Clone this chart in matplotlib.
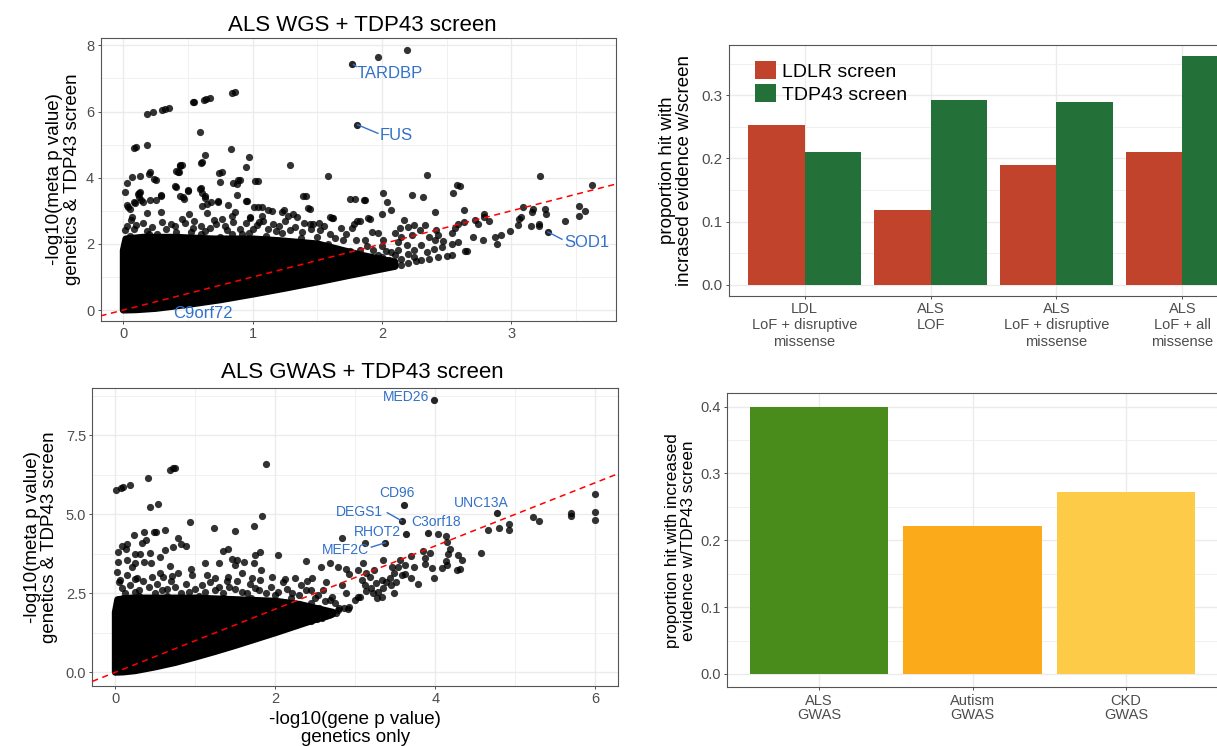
import numpy as np
import matplotlib
matplotlib.use("Agg")
import matplotlib.pyplot as plt
from matplotlib.patches import Polygon, Patch

plt.rcParams['font.family'] = ['Liberation Sans', 'DejaVu Sans']

# ------------------------------------------------------------------ data
# --- ALS WGS + TDP43 screen (x = -log10 gene p, y = -log10 meta p)
wgs_high = [(0.18, 5.93), (0.23, 5.99), (0.30, 6.05), (0.32, 6.07), (0.35, 6.10), (0.54, 6.28),
            (0.55, 6.29), (0.62, 6.36), (0.64, 6.38), (0.67, 6.40), (0.84, 6.57), (0.86, 6.59),
            (0.59, 5.38), (0.08, 4.91), (0.10, 4.92), (0.18, 5.00), (0.83, 4.87), (0.63, 4.69),
            (0.61, 4.47), (0.97, 4.64), (0.95, 4.33), (1.29, 4.39), (1.58, 4.04), (0.44, 4.39),
            (0.44, 4.34), (0.41, 4.21), (0.42, 4.16), (0.21, 4.17), (0.20, 4.12), (0.24, 3.96),
            (0.07, 4.01), (0.13, 4.06), (0.03, 3.83), (0.74, 4.14), (0.76, 4.16), (0.75, 3.88),
            (0.89, 3.93), (0.85, 3.83), (1.02, 3.91), (0.40, 3.76), (2.35, 4.09), (2.58, 3.78),
            (3.22, 4.06), (3.62, 3.79), (0.25, 3.93), (0.43, 4.18), (0.45, 4.38), (0.60, 4.45),
            (0.88, 3.80), (0.90, 3.93), (1.04, 3.91), (0.41, 3.73), (0.60, 3.68), (2.60, 3.75),
            (1.97, 7.64), (2.19, 7.85)]
wgs_mid = [(0.01, 3.56), (0.12, 3.53), (0.09, 3.24), (0.03, 3.18), (0.14, 3.33), (0.15, 3.26),
           (0.25, 3.33), (0.29, 3.48), (0.50, 3.61), (0.44, 3.45), (0.59, 3.66), (0.61, 3.15),
           (0.63, 3.45), (0.68, 3.26), (0.73, 3.28), (0.81, 3.18), (0.88, 3.48), (0.86, 2.97),
           (0.95, 3.30), (1.01, 3.12), (1.07, 3.12), (1.12, 3.01), (1.24, 3.02), (1.31, 2.89),
           (1.39, 3.46), (1.43, 3.07), (1.61, 2.77), (1.75, 3.35), (1.81, 2.70), (0.18, 2.92),
           (0.29, 2.97), (0.37, 2.61), (0.45, 2.75), (0.51, 2.89), (0.65, 2.92), (0.76, 2.74),
           (0.84, 2.83), (0.98, 2.78), (1.08, 2.70), (1.16, 2.60), (1.40, 2.62), (1.47, 2.60),
           (0.06, 2.72), (0.02, 2.07), (0.01, 2.42), (0.10, 2.57), (0.54, 2.47), (0.70, 2.72),
           (0.95, 2.64), (1.03, 2.57), (1.23, 2.32), (1.29, 2.42), (1.52, 2.42), (1.64, 2.19),
           (1.70, 2.13), (1.80, 2.12), (0.41, 2.37), (0.80, 2.42), (1.37, 2.19), (0.04, 3.12),
           (0.05, 3.06), (0.08, 3.27), (0.11, 3.51), (0.13, 3.57), (0.12, 3.41), (0.07, 2.80),
           (0.21, 3.33), (0.29, 3.46), (0.50, 3.63), (0.46, 3.41), (0.47, 3.35), (0.61, 3.53),
           (0.63, 3.39), (0.65, 3.21), (0.73, 3.29), (0.96, 3.31), (1.41, 3.45), (1.44, 3.06),
           (1.79, 3.37), (1.87, 3.33), (1.83, 2.69), (1.91, 2.74), (1.77, 2.47), (1.68, 2.47),
           (1.60, 2.82), (1.62, 2.77), (1.51, 2.64), (1.44, 2.60), (1.34, 2.82), (1.27, 2.84),
           (1.23, 2.97), (1.15, 3.00), (1.07, 2.84), (1.04, 3.11), (0.98, 2.82), (0.05, 2.25),
           (0.12, 2.15), (0.20, 2.30), (0.28, 2.10), (0.35, 2.20), (0.50, 2.15), (0.60, 2.30),
           (0.68, 2.05), (0.75, 2.20), (0.88, 2.10), (0.92, 2.30), (1.00, 2.05), (1.10, 2.25),
           (1.15, 2.05), (1.35, 2.05), (1.45, 1.95), (1.58, 2.00), (1.65, 1.85), (1.75, 1.80),
           (0.03, 2.55), (0.08, 2.45), (0.15, 2.62), (0.22, 2.50), (0.30, 2.65), (0.33, 2.45),
           (0.40, 2.55), (0.48, 2.62), (0.55, 2.70), (0.60, 2.55), (0.67, 2.48), (0.72, 2.60),
           (0.79, 2.55), (0.85, 2.65), (0.90, 2.45), (1.00, 2.45), (1.05, 2.65), (1.12, 2.45),
           (1.20, 2.55), (1.25, 2.70), (1.33, 2.50), (1.38, 2.35), (1.45, 2.45), (1.55, 2.55),
           (1.60, 2.30), (1.72, 2.30), (1.78, 2.60), (0.18, 2.38), (0.26, 2.30), (0.52, 2.35),
           (0.63, 2.40), (0.84, 2.30), (0.97, 2.32), (1.18, 2.38), (1.50, 2.20)]
wgs_right = [(2.55, 3.54), (2.01, 3.53), (2.23, 3.48), (2.32, 3.42), (1.86, 3.33), (2.04, 3.26),
             (2.07, 3.03), (2.41, 2.95), (2.00, 2.91), (2.63, 3.02), (3.52, 3.15), (3.57, 3.00),
             (3.52, 2.84), (3.26, 3.05), (3.27, 2.91), (3.16, 2.97), (3.17, 3.05), (3.09, 3.11),
             (3.07, 2.80), (3.06, 2.74), (3.41, 2.69), (3.21, 2.59), (3.21, 2.55), (3.15, 2.54),
             (3.05, 2.56), (2.99, 2.39), (2.92, 2.27), (2.87, 2.22), (2.89, 2.00), (2.78, 2.12),
             (2.70, 2.22), (2.79, 2.91), (2.79, 2.82), (2.83, 2.70), (2.72, 2.72), (2.74, 2.61),
             (2.63, 2.65), (2.59, 2.60), (2.56, 2.47), (2.42, 2.42), (2.43, 2.27), (2.41, 2.12),
             (2.47, 2.10), (2.54, 2.32), (2.59, 2.07), (2.54, 2.00), (2.46, 1.91), (2.33, 2.57),
             (2.29, 2.42), (2.25, 2.57), (2.23, 2.27), (2.36, 2.22), (2.30, 1.98), (2.25, 1.82),
             (2.17, 2.72), (2.20, 2.52), (2.14, 2.47), (2.15, 2.22), (2.19, 1.97), (2.12, 1.82),
             (2.07, 1.76), (2.10, 2.32), (1.89, 2.77), (1.92, 2.37), (1.97, 2.32), (2.01, 2.12),
             (2.03, 1.80), (1.97, 1.66), (1.93, 1.82), (1.87, 2.12), (1.83, 1.82), (1.84, 1.62),
             (1.90, 1.51), (1.95, 1.45), (2.00, 1.60), (2.05, 1.50), (2.10, 1.65), (2.15, 1.55),
             (2.00, 1.95), (1.88, 1.95), (2.12, 2.05), (2.20, 1.70), (2.25, 1.60), (2.35, 1.75),
             (2.40, 1.85)]
wgs_edge = [(2.15, 1.36), (2.20, 1.41), (2.26, 1.48), (2.30, 1.51), (2.36, 1.53), (2.43, 1.59),
            (2.50, 1.64), (2.54, 1.66), (2.64, 1.77), (2.66, 1.80)]
# outline of the solid mass of overlapping points
wgs_mass_top_x = [0.00, 0.02, 0.15, 0.40, 0.70, 1.00, 1.20, 1.50, 1.70, 1.85, 2.10]
wgs_mass_top_y = [1.80, 2.15, 2.20, 2.20, 2.15, 2.15, 2.10, 2.00, 1.80, 1.65, 1.45]
wgs_mass_bot_x = [2.10, 1.75, 1.50, 1.25, 1.00, 0.75, 0.50, 0.25, 0.10, 0.00]
wgs_mass_bot_y = [1.32, 1.05, 0.85, 0.66, 0.48, 0.31, 0.17, 0.05, 0.01, 0.00]
wgs_genes = ['TARDBP', 'FUS', 'SOD1', 'C9orf72']
wgs_gene_x = [1.77, 1.81, 3.28, 0.35]
wgs_gene_y = [7.44, 5.60, 2.36, 0.30]

# --- ALS GWAS + TDP43 screen
gwas_high = [(0.01, 5.77), (0.07, 5.83), (0.10, 5.85), (0.18, 5.93), (0.41, 6.15), (0.69, 6.41),
             (0.72, 6.46), (0.75, 6.48), (1.89, 6.60), (0.43, 5.22), (0.54, 5.33), (0.93, 4.76),
             (1.24, 4.56), (1.50, 4.48), (1.73, 4.62), (1.84, 4.94), (0.62, 4.50), (0.51, 4.45),
             (0.48, 4.43), (0.36, 4.44), (0.24, 4.34), (0.38, 4.19), (0.33, 4.10), (0.15, 4.06),
             (0.08, 4.00), (0.13, 3.89), (0.03, 3.80), (0.25, 3.73), (0.31, 3.74), (0.44, 3.77),
             (0.56, 3.64), (0.62, 3.87), (0.72, 3.98), (0.78, 4.25), (0.82, 4.06), (0.88, 4.01),
             (1.35, 3.85), (1.41, 3.90), (1.75, 3.72), (1.81, 3.80), (2.03, 3.71), (2.84, 4.24),
             (1.52, 3.55)]
gwas_right = [(5.22, 4.91), (5.30, 4.78), (5.70, 5.04), (5.70, 4.95), (6.00, 5.63), (6.00, 5.08),
              (6.00, 4.83), (4.66, 4.50), (4.80, 4.56), (4.92, 4.68), (4.92, 4.49), (4.04, 4.38),
              (4.14, 4.31), (4.15, 4.13), (4.57, 3.77), (4.19, 3.90), (4.16, 3.73), (4.13, 3.52),
              (4.15, 3.40), (4.08, 3.31), (3.96, 3.31), (3.99, 2.97), (3.94, 3.78), (3.87, 3.63),
              (3.87, 3.44), (3.85, 3.85), (3.70, 3.69), (3.73, 3.33), (3.70, 2.99), (3.78, 2.78),
              (3.62, 3.39), (3.56, 3.55), (3.46, 3.32), (3.48, 2.52), (3.35, 3.56), (3.27, 2.34),
              (3.33, 2.38), (4.28, 3.71), (4.33, 3.56), (4.31, 3.26), (4.27, 3.24), (3.12, 4.08),
              (3.03, 3.24), (3.10, 3.45), (3.08, 2.92), (3.12, 2.76), (3.14, 3.13), (3.18, 3.03),
              (3.20, 2.66), (3.24, 3.24), (3.26, 2.82), (3.28, 2.55), (3.33, 2.92), (3.35, 2.66),
              (3.39, 2.87), (3.43, 2.97), (3.45, 2.76), (3.49, 3.13), (3.51, 2.87), (3.53, 3.34),
              (3.58, 3.08), (3.62, 3.10), (3.06, 2.39), (3.14, 2.58), (3.22, 2.50), (2.86, 2.03),
              (2.91, 1.99), (3.03, 2.37)]
gwas_mid = [(0.15, 3.55), (0.04, 3.48), (0.25, 3.45), (0.36, 3.48), (0.45, 3.47), (0.69, 3.36),
            (0.95, 3.27), (1.12, 3.46), (1.30, 3.47), (1.46, 3.60), (1.50, 3.41), (1.61, 3.48),
            (1.74, 3.47), (1.82, 3.24), (2.39, 3.53), (2.57, 3.32), (2.68, 3.45), (2.79, 3.34),
            (2.89, 3.27), (2.92, 3.11), (0.02, 3.18), (0.06, 2.92), (0.15, 3.08), (0.21, 3.34),
            (0.27, 2.97), (0.46, 3.03), (0.56, 3.13), (0.71, 3.05), (0.79, 3.13), (0.96, 3.08),
            (1.15, 3.09), (1.25, 2.97), (1.41, 3.03), (1.58, 3.13), (1.71, 2.97), (1.81, 2.92),
            (1.96, 3.03), (2.12, 2.94), (2.25, 2.97), (2.46, 2.99), (2.63, 2.87), (2.83, 2.76),
            (0.08, 2.66), (0.25, 2.55), (0.42, 2.71), (0.58, 2.60), (0.75, 2.71), (0.92, 2.55),
            (1.08, 2.76), (1.25, 2.60), (1.42, 2.71), (1.58, 2.55), (1.75, 2.66), (1.88, 2.50),
            (2.04, 2.55), (2.21, 2.50), (2.38, 2.60), (2.54, 2.45), (2.71, 2.39), (2.88, 2.50),
            (3.00, 2.29), (2.92, 2.08), (2.79, 1.97), (2.67, 1.81), (2.58, 1.71), (0.10, 2.35),
            (0.30, 2.40), (0.45, 2.30), (0.65, 2.40), (0.85, 2.35), (1.05, 2.40), (1.20, 2.30),
            (1.35, 2.35), (1.55, 2.30), (1.70, 2.35), (1.90, 2.25), (2.10, 2.20), (2.20, 2.35),
            (2.30, 2.15), (2.45, 2.20), (2.55, 2.05), (2.62, 2.25), (2.75, 2.20), (2.80, 2.05),
            (0.05, 2.85), (0.12, 2.50), (0.18, 2.75), (0.30, 2.60), (0.35, 2.90), (0.50, 2.50),
            (0.52, 2.80), (0.65, 2.65), (0.70, 2.90), (0.82, 2.50), (0.88, 2.80), (1.00, 2.65),
            (1.12, 2.55), (1.18, 2.85), (1.30, 2.70), (1.35, 2.50), (1.50, 2.65), (1.52, 2.88),
            (1.65, 2.50), (1.68, 2.80), (1.80, 2.60), (1.95, 2.70), (2.00, 2.45), (2.15, 2.65),
            (2.30, 2.45), (2.32, 2.75), (2.45, 2.60), (2.50, 2.35), (2.60, 2.60), (2.68, 2.30),
            (0.25, 2.95), (0.60, 3.00), (1.40, 2.90), (2.10, 2.85), (2.40, 2.90)]
gwas_edge = [(2.45, 1.63), (2.52, 1.69), (2.58, 1.74), (2.64, 1.79), (2.70, 1.84), (2.76, 1.89)]
gwas_mass_top_x = [0.00, 0.03, 0.20, 0.50, 1.00, 1.50, 2.00, 2.30, 2.55, 2.72]
gwas_mass_top_y = [1.90, 2.30, 2.35, 2.35, 2.35, 2.30, 2.25, 2.15, 2.00, 1.90]
gwas_mass_bot_x = [2.72, 2.50, 2.25, 2.00, 1.75, 1.50, 1.25, 1.00, 0.75, 0.50, 0.25, 0.10, 0.00]
gwas_mass_bot_y = [1.85, 1.67, 1.46, 1.25, 1.05, 0.85, 0.66, 0.48, 0.31, 0.17, 0.05, 0.01, 0.00]
gwas_genes = ['MED26', 'CD96', 'DEGS1', 'C3orf18', 'UNC13A', 'RHOT2', 'MEF2C']
gwas_gene_x = [3.99, 3.61, 3.58, 3.91, 4.77, 3.64, 3.375]
gwas_gene_y = [8.62, 5.28, 4.80, 4.42, 5.05, 4.37, 4.10]

# --- bar charts
screen_cats = ['LDL\nLoF + disruptive\nmissense', 'ALS\nLOF',
               'ALS\nLoF + disruptive\nmissense', 'ALS\nLoF + all\nmissense']
ldlr_prop = [0.253, 0.118, 0.189, 0.211]
tdp43_prop = [0.211, 0.292, 0.290, 0.362]
screen_names = ['LDLR screen', 'TDP43 screen']

gwas_cats = ['ALS\nGWAS', 'Autism\nGWAS', 'CKD\nGWAS']
gwas_prop = [0.400, 0.222, 0.272]

# ------------------------------------------------------------------ layout
W, H = 1217, 746
fig = plt.figure(figsize=(W / 100, H / 100), dpi=100)
fig.patch.set_facecolor('white')


def axes_px(l, t, r, b):
    return fig.add_axes([l / W, 1 - b / H, (r - l) / W, (b - t) / H])


BLUE = '#3371C9'
TICKC = '#4D4D4D'
PT_SIZE = 27


def style(ax, xmaj, xmin, ymaj, ymin, tsize=10.5):
    ax.set_facecolor('white')
    ax.set_xticks(xmaj)
    ax.set_xticks(xmin, minor=True)
    ax.set_yticks(ymaj)
    ax.set_yticks(ymin, minor=True)
    ax.grid(True, which='major', color='#EBEBEB', lw=1.0)
    ax.grid(True, which='minor', color='#F0F0F0', lw=0.7)
    ax.set_axisbelow(True)
    ax.tick_params(which='major', direction='out', length=2.5, width=0.6,
                   color='#333333', labelcolor=TICKC, labelsize=tsize, pad=2)
    ax.tick_params(which='minor', length=0)
    for s in ax.spines.values():
        s.set_color('#555555')
        s.set_linewidth(0.8)


def scatter_panel(ax, groups, edge, mtx, mty, mbx, mby, gx, gy):
    verts = np.column_stack([list(mtx) + list(mbx), list(mty) + list(mby)])
    ax.add_patch(Polygon(verts, closed=True, facecolor='black', edgecolor='black',
                         lw=5.0, joinstyle='round', zorder=2))
    for g in groups + [edge]:
        a = np.array(g)
        ax.scatter(a[:, 0], a[:, 1], s=PT_SIZE, c='black', alpha=0.8, linewidths=0, zorder=3)
    ax.scatter(gx, gy, s=PT_SIZE, c='black', alpha=0.85, linewidths=0, zorder=3)
    ax.axline((0, 0), slope=1, color='#FF0000', lw=1.1, ls=(0, (4, 3)), zorder=4)


# ---------------- top-left: ALS WGS
ax1 = axes_px(100.5, 37.5, 615.5, 321)
style(ax1, [0, 1, 2, 3], [0.5, 1.5, 2.5, 3.5], [0, 2, 4, 6, 8], [1, 3, 5, 7])
ax1.set_xlim(-0.176, 3.804)
ax1.set_ylim(-0.33, 8.236)
scatter_panel(ax1, [wgs_high, wgs_mid, wgs_right], wgs_edge,
              wgs_mass_top_x, wgs_mass_top_y, wgs_mass_bot_x, wgs_mass_bot_y,
              wgs_gene_x, wgs_gene_y)
wgs_lab_pos = [(1.806, 7.14, 'left'), (1.984, 5.29, 'left'), (3.406, 2.05, 'left'),
               (0.612, -0.10, 'center')]
for name, (tx, ty, ha) in zip(wgs_genes, wgs_lab_pos):
    ax1.text(tx, ty, name, color=BLUE, fontsize=12, ha=ha, va='center', zorder=6)
ax1.plot([1.81, 1.968], [5.60, 5.34], color=BLUE, lw=1.0, zorder=5)
ax1.plot([3.282, 3.39], [2.36, 2.14], color=BLUE, lw=1.0, zorder=5)
ax1.plot([1.78, 1.80], [7.42, 7.36], color=BLUE, lw=1.0, zorder=5)
ax1.text(-0.0717, 0.5, '-log10(meta p value)\ngenetics & TDP43 screen', transform=ax1.transAxes,
         rotation=90, ha='center', va='center', fontsize=13.5, linespacing=1.05)
fig.text(362 / W, 1 - 31 / H, 'ALS WGS + TDP43 screen', ha='center', va='baseline', fontsize=16)

# ---------------- bottom-left: ALS GWAS
ax2 = axes_px(92.3, 387.7, 618, 686)
style(ax2, [0, 2, 4, 6], [1, 3, 5], [0, 2.5, 5, 7.5], [1.25, 3.75, 6.25, 8.75])
ax2.set_yticklabels(['0.0', '2.5', '5.0', '7.5'])
ax2.set_xlim(-0.2875, 6.284)
ax2.set_ylim(-0.434, 9.006)
scatter_panel(ax2, [gwas_high, gwas_right, gwas_mid], gwas_edge,
              gwas_mass_top_x, gwas_mass_top_y, gwas_mass_bot_x, gwas_mass_bot_y,
              gwas_gene_x, gwas_gene_y)
gwas_lab_pos = [(3.92, 8.71, 'right'), (3.52, 5.68, 'center'), (3.346, 5.07, 'right'),
                (3.70, 4.76, 'left'), (4.575, 5.37, 'center'), (3.575, 4.45, 'right'),
                (3.17, 3.87, 'right')]
for name, (tx, ty, ha) in zip(gwas_genes, gwas_lab_pos):
    ax2.text(tx, ty, name, color=BLUE, fontsize=10, ha=ha, va='center', zorder=6)
ax2.plot([3.40, 3.575], [5.05, 4.80], color=BLUE, lw=1.0, zorder=5)
ax2.plot([3.20, 3.375], [3.96, 4.10], color=BLUE, lw=1.0, zorder=5)
ax2.text(-0.0976, 0.5, '-log10(meta p value)\ngenetics & TDP43 screen', transform=ax2.transAxes,
         rotation=90, ha='center', va='center', fontsize=13.5, linespacing=1.05)
ax2.text(0.5, -0.1418, '-log10(gene p value)\ngenetics only', transform=ax2.transAxes,
         ha='center', va='center', fontsize=13.5, linespacing=1.05)
fig.text(362 / W, 1 - 378.3 / H, 'ALS GWAS + TDP43 screen', ha='center', va='baseline', fontsize=16)

# ---------------- top-right: screen comparison bars
ax3 = axes_px(729, 45, 1258, 296)
pos = np.arange(1, len(screen_cats) + 1)
style(ax3, pos, [], [0, 0.1, 0.2, 0.3], [0.05, 0.15, 0.25, 0.35], tsize=11)
ax3.set_yticklabels(['0.0', '0.1', '0.2', '0.3'], fontsize=11)
ax3.set_xticklabels(screen_cats, fontsize=10.5, linespacing=1.2)
ax3.bar(pos - 0.225, ldlr_prop, width=0.45, color='#C1432B', zorder=2)
ax3.bar(pos + 0.225, tdp43_prop, width=0.45, color='#237038', zorder=2)
ax3.set_xlim(0.4, 4.6)
ax3.set_ylim(-0.0181, 0.380)
handles = [Patch(facecolor='#C1432B'), Patch(facecolor='#237038')]
ax3.legend(handles, screen_names, loc='upper left', bbox_to_anchor=(0.05, 0.935),
           frameon=False, fontsize=14, handlelength=1.08, handleheight=1.02,
           handletextpad=0.28, labelspacing=0.18, borderpad=0, borderaxespad=0)
ax3.text(-0.1, 0.5, 'proportion hit with\nincrased evidence w/screen', transform=ax3.transAxes,
         rotation=90, ha='center', va='center', fontsize=13.5, linespacing=1.05)

# ---------------- bottom-right: GWAS bars
ax4 = axes_px(727, 393.3, 1218, 687.3)
pos2 = np.arange(1, len(gwas_cats) + 1)
style(ax4, pos2, [], [0, 0.1, 0.2, 0.3, 0.4], [0.05, 0.15, 0.25, 0.35], tsize=10.5)
ax4.set_yticklabels(['0.0', '0.1', '0.2', '0.3', '0.4'])
ax4.set_xticklabels(gwas_cats, fontsize=10.5, linespacing=1.02)
ax4.bar(pos2, gwas_prop, width=0.9, color=['#4A8C1C', '#FBAA19', '#FDCB48'], zorder=2)
ax4.set_xlim(0.4, 3.6)
ax4.set_ylim(-0.02, 0.42)
ax4.text(-0.0947, 0.5, 'proportion hit with increased\nevidence w/TDP43 screen',
         transform=ax4.transAxes, rotation=90, ha='center', va='center', fontsize=12.3,
         linespacing=1.05)

fig.savefig('out.png', dpi=100, facecolor='white')
